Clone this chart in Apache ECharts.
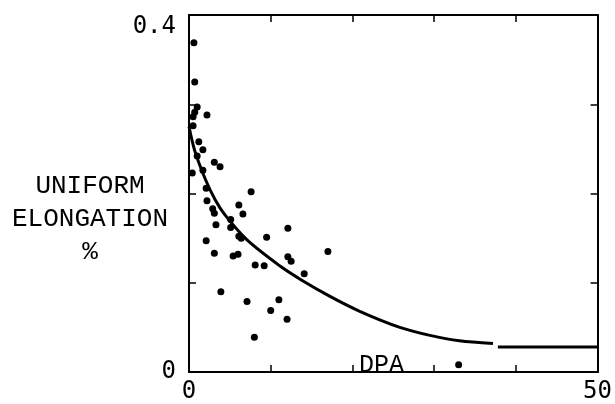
<!DOCTYPE html>
<html>
<head>
<meta charset="utf-8">
<script src="https://cdn.jsdelivr.net/npm/echarts@6/dist/echarts.min.js"></script>
<style>
  html, body { margin: 0; padding: 0; background: #fff; }
  #chart { width: 615px; height: 404px; }
</style>
</head>
<body>
<div id="chart"></div>
<script>
// measured points: DPA vs uniform elongation (%)
const dpa = [0.6, 0.7, 1.0, 0.7, 0.5, 2.2, 0.5, 1.2, 1.7, 1.0, 3.1, 3.8, 1.7, 0.4, 2.1,
  7.6, 2.2, 6.1, 2.9, 3.1, 6.6, 5.1, 5.1, 3.3, 12.1, 2.1, 6.1, 6.4, 9.5, 3.1,
  5.4, 6.0, 17.0, 12.1, 12.5, 8.1, 9.2, 14.1, 3.9, 7.1, 11.0, 10.0, 12.0, 8.0, 33.0]
const elongation = [0.369, 0.325, 0.297, 0.291, 0.286, 0.288, 0.276, 0.258, 0.249, 0.242, 0.235, 0.230, 0.226, 0.223, 0.206,
  0.202, 0.192, 0.187, 0.183, 0.178, 0.177, 0.171, 0.162, 0.165, 0.161, 0.147, 0.152, 0.150, 0.151, 0.133,
  0.130, 0.132, 0.135, 0.129, 0.124, 0.120, 0.119, 0.110, 0.090, 0.079, 0.081, 0.069, 0.059, 0.039, 0.008]

// hand-drawn trend curve
const curveX = [0, 0.7, 2.0, 3.2, 4.4, 7.1, 11.1, 13.6, 17.2, 20.9, 25.8, 29.5, 33.1, 37.2]
const curveY = [0.275, 0.248, 0.216, 0.193, 0.176, 0.148, 0.119, 0.104, 0.085, 0.068, 0.050, 0.041, 0.035, 0.032]
const plateauX = [37.8, 50]
const plateauY = [0.028, 0.028]

const xTicks = ['0', '50']
const yTicks = ['0', '0.4']

const chart = echarts.init(document.getElementById('chart'))

const ink = '#000'
const tickFont = 'DejaVu Sans Mono'

const frameAxis = {
  axisLine: { show: true, onZero: false, lineStyle: { color: ink, width: 2 } },
  axisTick: { show: true, inside: true, length: 7, lineStyle: { color: ink, width: 1.5 } },
  splitLine: { show: false },
}

const option = {
  animation: false,
  backgroundColor: '#fff',
  grid: { left: 189, top: 15, right: 17, bottom: 28 },
  xAxis: [
    {
      type: 'value', min: 0, max: 50, interval: 10,
      ...frameAxis,
      axisLabel: {
        color: ink, fontFamily: tickFont, fontSize: 24, margin: 8,
        formatter: (v) => (xTicks.includes(String(v)) ? String(v) : ''),
      },
    },
    {
      type: 'value', min: 0, max: 50, interval: 10, position: 'top',
      ...frameAxis,
      axisLabel: { show: false },
    },
  ],
  yAxis: [
    {
      type: 'value', min: 0, max: 0.4, interval: 0.1,
      ...frameAxis,
      axisLabel: {
        color: ink, fontFamily: tickFont, fontSize: 24, margin: 13,
        verticalAlignMaxLabel: 'top',
        formatter: (v) => {
          const s = v === 0 ? '0' : v.toFixed(1)
          return yTicks.includes(s) ? s : ''
        },
      },
    },
    {
      type: 'value', min: 0, max: 0.4, interval: 0.1, position: 'right',
      ...frameAxis,
      axisLabel: { show: false },
    },
  ],
  graphic: [
    {
      type: 'text', x: 90, y: 170,
      style: {
        text: 'UNIFORM\nELONGATION\n%',
        fill: ink, font: '26px "Liberation Mono"',
        align: 'center', lineHeight: 33,
      },
    },
    {
      type: 'text', x: 359, y: 353,
      style: { text: 'DPA', fill: ink, font: '25px "Liberation Mono"' },
    },
  ],
  series: [
    {
      type: 'scatter',
      symbolSize: 7,
      itemStyle: { color: ink, opacity: 1 },
      data: dpa.map((x, i) => [x, elongation[i]]),
    },
    {
      type: 'line',
      smooth: 0.3,
      showSymbol: false,
      lineStyle: { color: ink, width: 3 },
      data: curveX.map((x, i) => [x, curveY[i]]),
    },
    {
      type: 'line',
      showSymbol: false,
      lineStyle: { color: ink, width: 3 },
      data: plateauX.map((x, i) => [x, plateauY[i]]),
    },
  ],
}

chart.setOption(option)
</script>
</body>
</html>
